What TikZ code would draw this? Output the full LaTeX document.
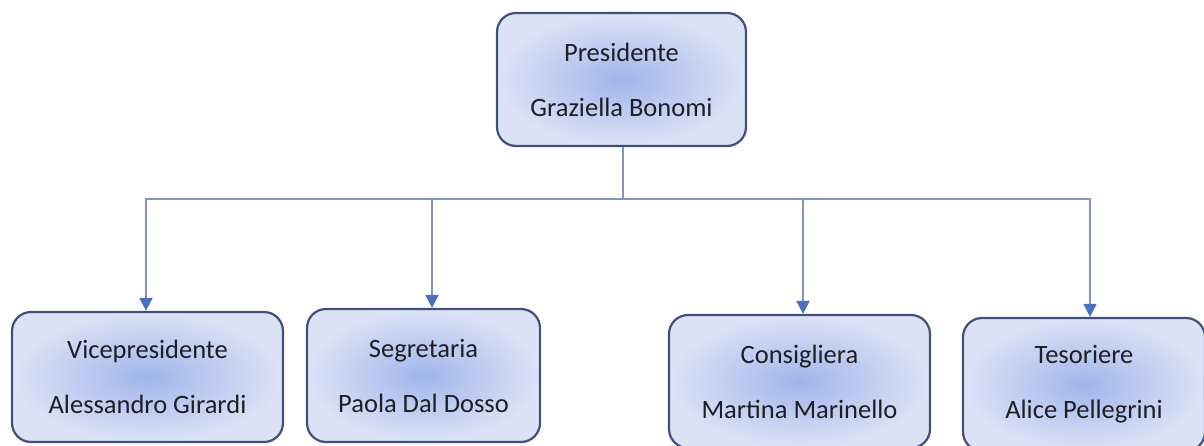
\documentclass[tikz,border=0pt]{standalone}
\usepackage{fontspec}
\setmainfont{Carlito}
\usetikzlibrary{arrows.meta}
\definecolor{boxborder}{HTML}{40507A}
\definecolor{boxin}{HTML}{9FB5EA}
\definecolor{boxout}{HTML}{DCE2F6}
\definecolor{connline}{HTML}{7F95C2}
\definecolor{arrowcol}{HTML}{4A70C0}
\definecolor{txt}{HTML}{1E1E24}
\tikzset{
  orgbox/.style={rectangle, rounded corners=19pt, draw=boxborder, line width=2.2pt,
    inner color=boxin, outer color=boxout, align=center, text=txt,
    font=\fontsize{26.5}{55}\selectfont, inner sep=0pt},
  conn/.style={draw=connline, line width=1.8pt},
  arr/.style={conn, -{Triangle[length=13pt,width=13pt,color=arrowcol]}}
}
\begin{document}
\begin{tikzpicture}[x=1pt,y=-1pt]
\useasboundingbox (0,0) rectangle (1204,445);
\clip (0,0) rectangle (1204,445);
\node[orgbox, minimum width=249pt, minimum height=133pt] (top) at (621.5,79.5) {Presidente\\Graziella Bonomi};
\node[orgbox, minimum width=271pt, minimum height=130pt] (vice) at (147.5,377) {Vicepresidente\\Alessandro Girardi};
\node[orgbox, minimum width=233pt, minimum height=133pt] (segr) at (423.5,375.5) {Segretaria\\Paola Dal Dosso};
\node[orgbox, minimum width=261pt, minimum height=133pt] (cons) at (799.5,381.5) {Consigliera\\Martina Marinello};
\node[orgbox, minimum width=242pt, minimum height=133pt] (teso) at (1084,384.5) {Tesoriere\\Alice Pellegrini};
\coordinate (bus) at (623,199);
\draw[conn] ([xshift=1.5pt]top.south) -- (bus);
\draw[arr] (bus) -| ([xshift=-1.5pt]vice.north);
\draw[arr] (bus) -| ([xshift=8.5pt]segr.north);
\draw[arr] (bus) -| ([xshift=3.5pt]cons.north);
\draw[arr] (bus) -| ([xshift=6pt]teso.north);
\end{tikzpicture}
\end{document}
